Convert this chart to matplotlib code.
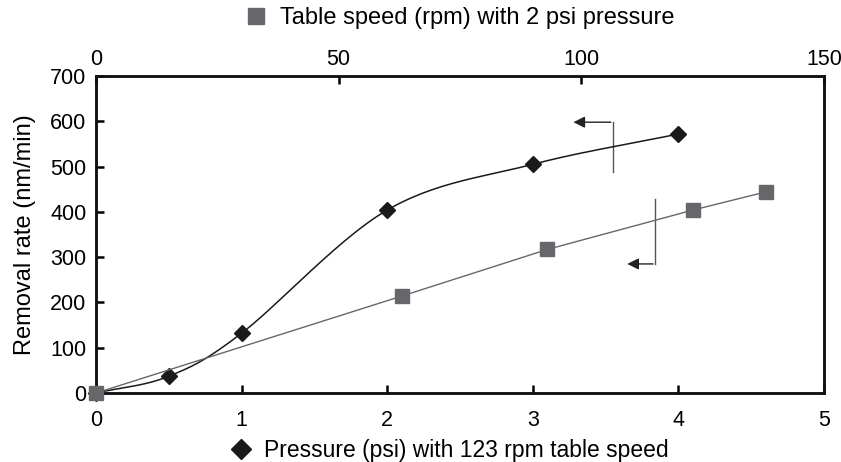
import matplotlib
matplotlib.use("Agg")
import matplotlib.pyplot as plt
import numpy as np
from matplotlib.lines import Line2D

plt.rcParams['font.family'] = ['Liberation Sans', 'DejaVu Sans']

# pressure series (bottom axis, psi) at 123 rpm
pressure = [0, 0.5, 1, 2, 3, 4]
rate_pressure = [0, 37, 132, 404, 505, 572]

# table speed series (top axis, rpm) at 2 psi
speed = [0, 63, 93, 123, 138]
rate_speed = [0, 214, 317, 404, 444]


def smooth(x, y, n=30):
    # catmull-rom style smoothing, like the spreadsheet "smoothed line"
    x = np.asarray(x, float)
    y = np.asarray(y, float)
    px = np.concatenate([[2 * x[0] - x[1]], x, [2 * x[-1] - x[-2]]])
    py = np.concatenate([[2 * y[0] - y[1]], y, [2 * y[-1] - y[-2]]])
    xs, ys = [], []
    t = np.linspace(0, 1, n)
    for i in range(1, len(px) - 2):
        p0, p1, p2, p3 = [np.array([px[j], py[j]]) for j in range(i - 1, i + 3)]
        m1 = (p2 - p0) / 2
        m2 = (p3 - p1) / 2
        h00 = 2 * t**3 - 3 * t**2 + 1
        h10 = t**3 - 2 * t**2 + t
        h01 = -2 * t**3 + 3 * t**2
        h11 = t**3 - t**2
        pts = np.outer(h00, p1) + np.outer(h10, m1) + np.outer(h01, p2) + np.outer(h11, m2)
        xs.extend(pts[:, 0])
        ys.extend(pts[:, 1])
    return xs, ys


fig = plt.figure(figsize=(8.41, 4.62), dpi=100)
ax = fig.add_axes([96 / 841, 1 - 393 / 462, 728 / 841, 317 / 462])
ax2 = ax.twiny()

dark = '#1a1a1a'
grey = '#67676b'

sx, sy = smooth(pressure, rate_pressure)
ax.plot(sx, sy, color=dark, lw=1.1, zorder=3)
ax.plot(pressure, rate_pressure, ls='none', marker='D', ms=8.5, color=dark,
        zorder=4, clip_on=False)

ax2.plot(speed, rate_speed, color=grey, lw=1.0, zorder=3)
ax2.plot(speed, rate_speed, ls='none', marker='s', ms=10, color=grey,
         zorder=5, clip_on=False)

ax.set_xlim(0, 5)
ax.set_ylim(0, 700)
ax2.set_xlim(0, 150)
ax.set_xticks(range(6))
ax.set_yticks(range(0, 701, 100))
ax2.set_xticks([0, 50, 100, 150])

for a in (ax, ax2):
    for s in a.spines.values():
        s.set_linewidth(1.8)
        s.set_color('#111111')
ax.tick_params(axis='x', direction='in', length=6, width=1.8, labelsize=15.5, pad=12)
ax.tick_params(axis='y', direction='in', length=6, width=1.8, labelsize=15.5, pad=7)
ax2.tick_params(axis='x', direction='in', length=6, width=1.8, labelsize=15.5, pad=4)

ax.set_ylabel('Removal rate (nm/min)', fontsize=17, labelpad=10)

# arrows telling which axis each curve belongs to
ax.plot([3.55, 3.55], [489, 598], color='#555555', lw=1.0)
ax.annotate('', xy=(3.26, 598), xytext=(3.555, 598),
            arrowprops=dict(arrowstyle='-|>', color='#222222', lw=1.0, mutation_scale=17))
ax.plot([3.84, 3.84], [428, 285], color='#555555', lw=1.0)
ax.annotate('', xy=(3.63, 285), xytext=(3.845, 285),
            arrowprops=dict(arrowstyle='-|>', color='#222222', lw=1.0, mutation_scale=17))

h_speed = Line2D([], [], ls='none', marker='s', ms=11, color=grey)
h_press = Line2D([], [], ls='none', marker='D', ms=10, color=dark)
fig.legend([h_speed], ['Table speed (rpm) with 2 psi pressure'], loc='center',
           bbox_to_anchor=(458 / 841, 1 - 18 / 462), frameon=False, fontsize=17,
           handletextpad=0.4, handlelength=1.2, borderpad=0)
fig.legend([h_press], ['Pressure (psi) with 123 rpm table speed'], loc='center',
           bbox_to_anchor=(448 / 841, 1 - 451 / 462), frameon=False, fontsize=16.5,
           handletextpad=0.4, handlelength=1.2, borderpad=0)

fig.savefig('out.png', dpi=100)
